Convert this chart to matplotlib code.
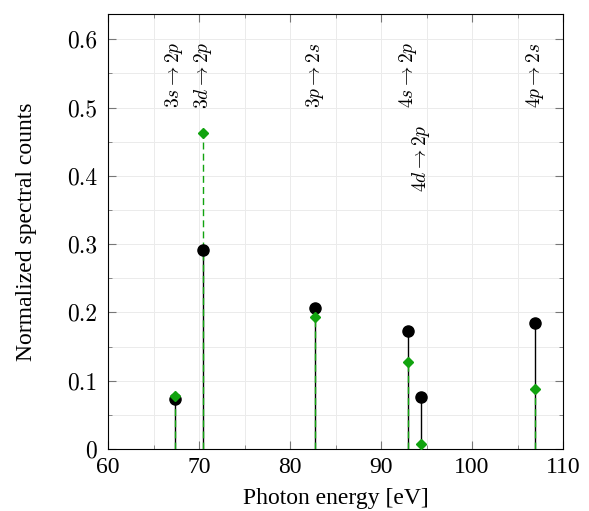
import matplotlib
matplotlib.use("Agg")
import matplotlib.pyplot as plt
from matplotlib.ticker import MultipleLocator, FuncFormatter

plt.rcParams['font.family'] = 'cmr10'
plt.rcParams['mathtext.fontset'] = 'cm'
plt.rcParams['axes.formatter.use_mathtext'] = True

# transition energies (eV) and normalized counts
energies = [67.4, 70.4, 82.8, 93.0, 94.4, 106.9]
measured = [0.073, 0.291, 0.206, 0.173, 0.076, 0.184]
simulated = [0.078, 0.463, 0.193, 0.127, 0.007, 0.088]
labels = [r'$3s \rightarrow 2p$', r'$3d \rightarrow 2p$', r'$3p \rightarrow 2s$',
          r'$4s \rightarrow 2p$', r'$4d \rightarrow 2p$', r'$4p \rightarrow 2s$']
label_y = [0.548, 0.548, 0.548, 0.548, 0.426, 0.548]
label_dx = [-0.2, 0.0, 0.0, 0.0, 0.0, 0.0]

green = '#11a30f'
times = 'Liberation Serif'

fig = plt.figure(figsize=(5.89, 5.11), dpi=100)
ax = fig.add_axes([108 / 589, 62 / 511, 455 / 589, 435 / 511])

for x, m, s in zip(energies, measured, simulated):
    ax.plot([x, x], [0, m], color='black', lw=1.0, zorder=3)
    ax.plot([x, x], [0, s], color=green, lw=1.0, ls=(0, (5, 3)), zorder=4)

ax.plot(energies, measured, 'o', color='black', ms=8, zorder=5)
ax.plot(energies, simulated, 'D', color=green, ms=5, zorder=6)

for x, y, t, dx in zip(energies, label_y, labels, label_dx):
    ax.text(x + dx, y, t, rotation=90, ha='center', va='center', fontsize=14)

ax.set_xlim(60, 110)
ax.set_ylim(0, 0.637)
ax.xaxis.set_major_locator(MultipleLocator(10))
ax.xaxis.set_minor_locator(MultipleLocator(5))
ax.yaxis.set_major_locator(MultipleLocator(0.1))
ax.yaxis.set_minor_locator(MultipleLocator(0.05))
ax.yaxis.set_major_formatter(FuncFormatter(lambda v, p: '0' if abs(v) < 1e-9 else f'{v:.1f}'))
ax.xaxis.set_major_formatter(FuncFormatter(lambda v, p: f'{v:.0f}'))

ax.grid(True, which='both', color='#ebebeb', lw=0.7, zorder=0)
ax.set_axisbelow(True)
ax.tick_params(which='both', direction='in', top=True, right=True, color='#777777')
ax.tick_params(which='major', length=6)
ax.tick_params(which='minor', length=3)
ax.tick_params(axis='y', labelsize=17, pad=8)
ax.tick_params(axis='x', labelsize=17, pad=6)
for lab in ax.get_xticklabels():
    lab.set_family(times)

ax.set_xlabel('Photon energy [eV]', fontsize=17, family=times, labelpad=7)
ax.set_ylabel('Normalized spectral counts', fontsize=17, family=times, labelpad=21)

fig.savefig('out.png', dpi=100)
